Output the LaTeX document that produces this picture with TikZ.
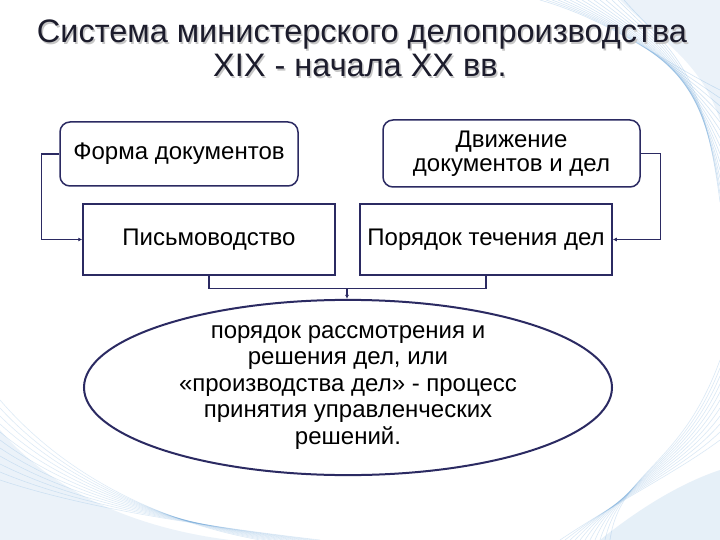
\documentclass[tikz,border=0pt]{standalone}
\usepackage{fontspec}
\setmainfont{Liberation Sans}
\usetikzlibrary{shapes.geometric,arrows.meta,calc}
\definecolor{navy}{HTML}{2B2A62}
\definecolor{smoke}{HTML}{5B9BD5}
\definecolor{titlec}{HTML}{1C1C2C}
\begin{document}
\begin{tikzpicture}[x=1pt,y=-1pt,
  boxbase/.style={draw=navy,line width=1.5pt,fill=white,align=center,font=\fontsize{24}{24}\selectfont,inner sep=2pt},
  rbox/.style={boxbase,rounded corners=10pt},
  sbox/.style={boxbase},
  ell/.style={ellipse,draw=navy,line width=2pt,fill=white,align=center,inner sep=0pt,font=\fontsize{24}{26.5}\selectfont},
  conn/.style={draw=navy,line width=1.4pt},
  arr/.style={conn,-{Latex[length=4pt,width=4pt]}},
  ttl/.style={anchor=base,font=\fontsize{32.5}{34}\selectfont}]
\useasboundingbox (0,0) rectangle (720,540);
\fill[white] (0,0) rectangle (720,540);
% decorative smoke
\begin{scope}[draw=smoke,line width=0.6pt]
\foreach \i in {0,...,14}{
  \draw[opacity=0.25] (540+\i*6,0) .. controls (610+\i*4,20+\i*2) and (660+\i*3,60) .. (720,90+\i*8);
}
\foreach \i in {0,...,10}{
  \draw[opacity=0.2] (0,400+\i*8) .. controls (60,470+\i*3) and (150,520) .. (260+\i*6,540);
}
\foreach \i in {0,...,10}{
  \draw[opacity=0.22] (560+\i*5,540) .. controls (620,500-\i*3) and (680,470) .. (720,440-\i*8);
}
\end{scope}
\fill[smoke,opacity=0.12] (620,0) .. controls (660,40) and (700,60) .. (720,120) -- (720,0) -- cycle;
\fill[smoke,opacity=0.12] (0,430) .. controls (60,500) and (150,530) .. (230,540) -- (0,540) -- cycle;
\fill[smoke,opacity=0.15] (600,540) .. controls (650,500) and (690,480) .. (720,470) -- (720,540) -- cycle;
% title
\node[ttl,text=gray!45] at (363.5,44.5) {Система министерского делопроизводства};
\node[ttl,text=gray!45] at (361.5,78.5) {XIX - начала XX вв.};
\node[ttl,text=titlec] (title1) at (362,43) {Система министерского делопроизводства};
\node[ttl,text=titlec] (title2) at (360,77) {XIX - начала XX вв.};
% boxes
\node[rbox,minimum width=238pt,minimum height=64pt] (forma) at (179,154) {Форма документов};
\node[sbox,minimum width=252pt,minimum height=71pt] (pis) at (209,239.5) {Письмоводство};
\node[rbox,minimum width=257pt,minimum height=67pt] (dvi) at (511.5,153.5) {Движение\\документов и дел};
\node[sbox,minimum width=252pt,minimum height=71pt] (por) at (486,239.5) {Порядок течения дел};
\node[ell,minimum width=528pt,minimum height=175pt] (res) at (348,387.5) {порядок рассмотрения и\\решения дел, или\\«производства дел» - процесс\\принятия управленческих\\решений.};
% connectors
\draw[arr] (forma.west) -- ++(-18,0) |- (pis.west);
\draw[arr] (dvi.east) -- ++(20,0) |- (por.east);
\draw[conn] (pis.south) -- ++(0,13) -| (por.south);
\coordinate (j) at (347,288);
\draw[arr] (j) -- (j |- res.north);
\end{tikzpicture}
\end{document}
